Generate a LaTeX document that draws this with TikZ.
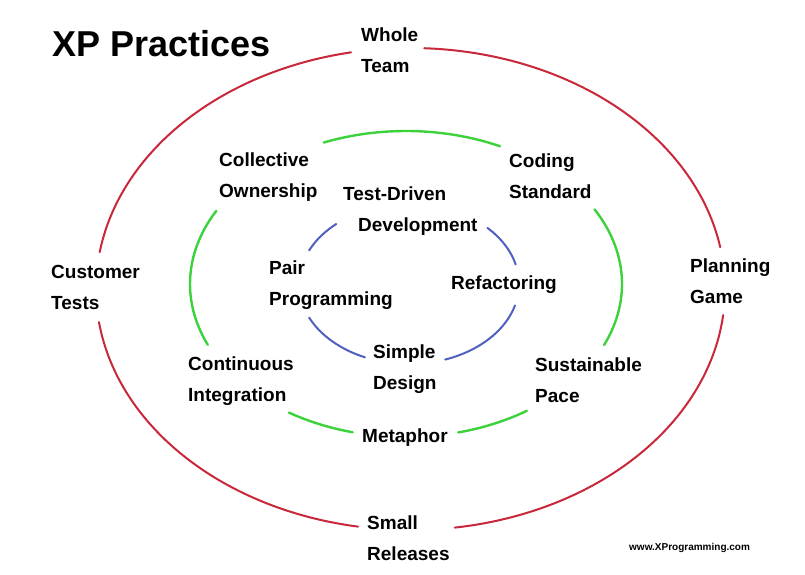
\documentclass[tikz,border=0pt]{standalone}
\usepackage{fontspec}
\setmainfont{Liberation Sans}
\definecolor{xpred}{HTML}{C8283A}
\definecolor{xpgreen}{HTML}{3CD23C}
\definecolor{xpblue}{HTML}{5060C0}
\begin{document}
\begin{tikzpicture}[x=1pt,y=-1pt,
  lbl/.style={anchor=base west,inner sep=0pt,align=left,
    font=\fontsize{19}{31}\selectfont\bfseries},
  ring/.style={line width=2pt,line cap=round},
  redring/.style={ring,xpred},
  greenring/.style={ring,xpgreen,line width=2.4pt},
  bluering/.style={ring,xpblue}]
\useasboundingbox[fill=white] (0,0) rectangle (805,575);
% outer red ring: centre (410.5,289), radii 314.5 x 241
\foreach \a/\b in {188.8/259.1,272.5/350,6.2/81.9,99.6/172.1}
  \draw[redring] plot[domain=\a:\b,samples=80,smooth] ({410.5+314.5*cos(\x)},{289+241*sin(\x)});
% middle green ring: centre (406,284), radii 216 x 153
\foreach \a/\b in {247.6/295.8,330.8/383.5,56/76,104.3/122.8,156.6/208.6}
  \draw[greenring] plot[domain=\a:\b,samples=60,smooth] ({406+216*cos(\x)},{284+153*sin(\x)});
% inner blue ring: centre (409,284), radii 110 x 80
\foreach \a/\b in {315.5/345.9,15.5/70.8,113.6/155.2,204.8/228.6}
  \draw[bluering] plot[domain=\a:\b,samples=40,smooth] ({409+110*cos(\x)},{284+80*sin(\x)});
% labels (base anchor = baseline of the last line)
\node[anchor=base west,inner sep=0pt,font=\fontsize{36}{40}\selectfont\bfseries] (title) at (52,57) {XP Practices};
\node[lbl] (whole) at (361,73) {Whole\\Team};
\node[lbl] (cust) at (51,309) {Customer\\Tests};
\node[lbl] (plan) at (690,303) {Planning\\Game};
\node[lbl] (small) at (367,560) {Small\\Releases};
\node[lbl] (coll) at (219,197) {Collective\\Ownership};
\node[lbl] (coding) at (509,198) {Coding\\Standard};
\node[lbl] (tdd) at (343,231) {Test-Driven\\\hspace*{15pt}Development};
\node[lbl] (pair) at (269,305) {Pair\\Programming};
\node[lbl] (refac) at (451,289) {Refactoring};
\node[lbl] (simple) at (373,389) {Simple\\Design};
\node[lbl] (ci) at (188,401) {Continuous\\Integration};
\node[lbl] (pace) at (535,402) {Sustainable\\Pace};
\node[lbl] (meta) at (362,442) {Metaphor};
\node[anchor=base west,inner sep=0pt,font=\fontsize{10}{12}\selectfont\bfseries] (www) at (629,550) {www.XProgramming.com};
\end{tikzpicture}
\end{document}
